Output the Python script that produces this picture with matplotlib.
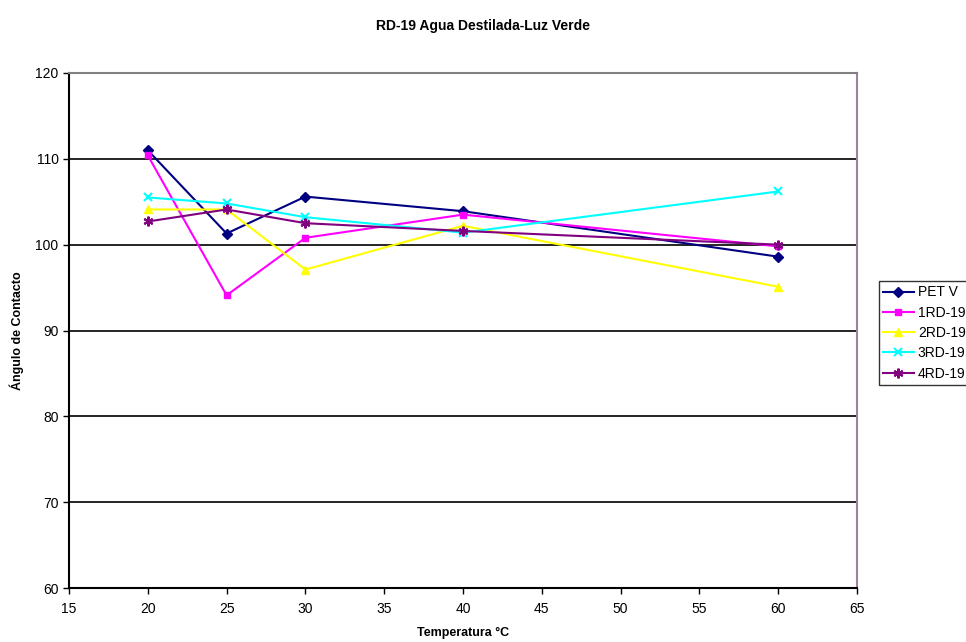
import matplotlib

matplotlib.use("Agg")

import matplotlib.pyplot as plt

plt.rcParams["font.family"] = ["Liberation Sans", "DejaVu Sans"]

temperatures = [20, 25, 30, 40, 60]

pet_v = [111.0, 101.3, 105.6, 103.9, 98.6]
rd19_1 = [110.4, 94.1, 100.8, 103.5, 99.8]
rd19_2 = [104.1, 104.1, 97.1, 102.2, 95.1]
rd19_3 = [105.5, 104.8, 103.2, 101.4, 106.2]
rd19_4 = [102.7, 104.1, 102.5, 101.6, 100.0]

series = [
    ("PET V", pet_v, "#000080", "D", 5),
    ("1RD-19", rd19_1, "#ff00ff", "s", 5),
    ("2RD-19", rd19_2, "#ffff00", "^", 6),
    ("3RD-19", rd19_3, "#00ffff", "x", 6),
    ("4RD-19", rd19_4, "#800080", (6, 2, 0), 7),
]

fig = plt.figure(figsize=(9.66, 6.42), dpi=100)
ax = fig.add_axes([69 / 966, 54 / 642, 788 / 966, 515 / 642])

for yv in [70, 80, 90, 100, 110]:
    ax.axhline(yv, color="black", linewidth=1.2, zorder=1)

for label, values, color, marker, size in series:
    ax.plot(
        temperatures, values, color=color, marker=marker, markersize=size,
        markeredgewidth=1.5 if marker == "x" or isinstance(marker, tuple) else 1,
        linewidth=1.5, label=label, zorder=3,
    )

ax.set_xlim(15, 65)
ax.set_ylim(60, 120)
ax.set_xticks(range(15, 66, 5))
ax.set_yticks(range(60, 121, 10))
ax.tick_params(direction="out", length=4, width=1, labelsize=10)
ax.tick_params(axis="x", pad=6)

ax.spines["left"].set_color("black")
ax.spines["bottom"].set_color("black")
ax.spines["left"].set_linewidth(1.5)
ax.spines["bottom"].set_linewidth(1.5)
ax.spines["top"].set_color("#808080")
ax.spines["right"].set_color("#a080a0")
ax.spines["top"].set_linewidth(1.5)
ax.spines["right"].set_linewidth(1.5)

ax.set_xlabel("Temperatura °C", fontsize=9, fontweight="bold", labelpad=8)
ax.set_ylabel("Ángulo de Contacto", fontsize=9, fontweight="bold", labelpad=8)
fig.suptitle("RD-19 Agua Destilada-Luz Verde", fontsize=10, fontweight="bold", y=0.97)

leg = fig.legend(
    loc="center left", bbox_to_anchor=(879 / 966, (642 - 333) / 642), fontsize=10,
    frameon=True, fancybox=False, edgecolor="black", handlelength=2.2,
    handletextpad=0.3, borderpad=0.3, labelspacing=0.45, borderaxespad=0,
)
leg.get_frame().set_linewidth(1)

fig.savefig("out.png", dpi=100)
plt.close(fig)
